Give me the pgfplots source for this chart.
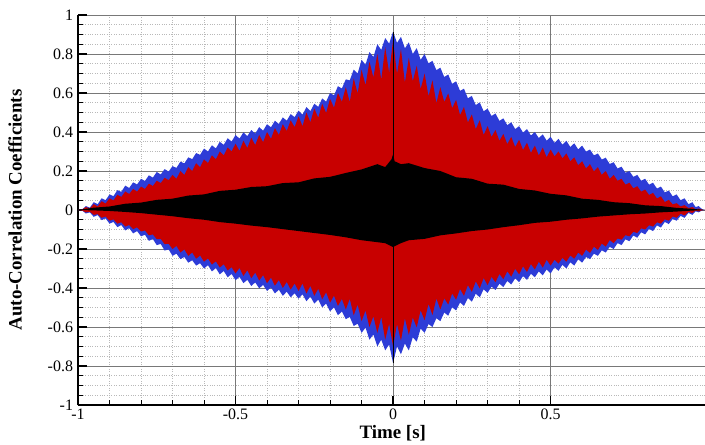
\documentclass[border=0pt]{standalone}
\usepackage{pgfplots}
\pgfplotsset{compat=1.18}
\usepackage{fontspec}
\setmainfont{Liberation Serif}
\definecolor{acfblue}{RGB}{45,60,215}
\definecolor{acfred}{RGB}{200,0,0}
\definecolor{majgrid}{RGB}{120,120,120}
\definecolor{mingrid}{RGB}{185,185,185}

\begin{document}
\begin{tikzpicture}
\begin{axis}[
  scale only axis, width=627bp, height=390bp,
  xmin=-1, xmax=0.99, ymin=-1, ymax=1,
  axis lines=left, axis line style={-, line width=1.6pt},
  xtick={-1,-0.5,0,0.5},
  ytick={-1,-0.8,-0.6,-0.4,-0.2,0,0.2,0.4,0.6,0.8,1},
  minor x tick num=4, minor y tick num=3,
  tick align=inside,
  major tick length=9bp, minor tick length=5bp,
  major tick style={black, line width=1.5pt},
  minor tick style={black, line width=0.6pt},
  grid=both,
  major grid style={majgrid, line width=0.6pt},
  minor grid style={mingrid, dotted, line width=0.6pt},
  tick label style={font=\fontsize{16}{18}\selectfont},
  xticklabel style={yshift=-0.5bp},
  yticklabel style={xshift=-1.5bp},
  /pgf/number format/assume math mode=true,
  label style={font=\fontsize{19}{22}\selectfont\bfseries},
  xlabel={Time [s]}, ylabel={Auto-Correlation Coefficients},
  xlabel style={at={(axis description cs:0.502,-0.073)}, anchor=center, inner sep=0pt},
  ylabel style={at={(axis description cs:-0.1005,0.5)}, anchor=center},
]

% blue: upper edge left to right, then lower edge back
\addplot[draw=none, fill=acfblue] coordinates {
(-1,0) (-0.9875,0.002) (-0.975,0.02) (-0.9625,0.012) (-0.95,0.04) (-0.9375,0.03)
(-0.925,0.06) (-0.9125,0.05) (-0.9,0.08) (-0.8875,0.071) (-0.875,0.102) (-0.8625,0.093)
(-0.85,0.125) (-0.8375,0.113) (-0.825,0.142) (-0.8125,0.131) (-0.8,0.16) (-0.7875,0.149)
(-0.775,0.178) (-0.7625,0.166) (-0.75,0.195) (-0.7375,0.182) (-0.725,0.21) (-0.7125,0.197)
(-0.7,0.225) (-0.6875,0.216) (-0.675,0.248) (-0.6625,0.239) (-0.65,0.27) (-0.6375,0.261)
(-0.625,0.292) (-0.6125,0.283) (-0.6,0.315) (-0.5875,0.3) (-0.575,0.332) (-0.5625,0.316)
(-0.55,0.35) (-0.5375,0.334) (-0.525,0.368) (-0.5125,0.351) (-0.5,0.385) (-0.4875,0.366)
(-0.475,0.398) (-0.4625,0.379) (-0.45,0.41) (-0.4375,0.392) (-0.425,0.425) (-0.4125,0.407)
(-0.4,0.44) (-0.3875,0.424) (-0.375,0.458) (-0.3625,0.441) (-0.35,0.475) (-0.3375,0.458)
(-0.325,0.492) (-0.3125,0.476) (-0.3,0.51) (-0.2875,0.489) (-0.275,0.528) (-0.2625,0.507)
(-0.25,0.545) (-0.2375,0.529) (-0.225,0.572) (-0.2125,0.556) (-0.2,0.6) (-0.1875,0.588)
(-0.175,0.635) (-0.1625,0.623) (-0.15,0.67) (-0.1375,0.665) (-0.125,0.72) (-0.1125,0.7)
(-0.1,0.77) (-0.0875,0.745) (-0.075,0.81) (-0.0625,0.785) (-0.05,0.85) (-0.0375,0.821)
(-0.025,0.882) (-0.0125,0.853) (0,0.915)
(0.0125,0.857) (0.025,0.888) (0.0375,0.829) (0.05,0.86) (0.0625,0.8) (0.075,0.83)
(0.0875,0.77) (0.1,0.8) (0.1125,0.752) (0.125,0.765) (0.1375,0.717) (0.15,0.73)
(0.1625,0.682) (0.175,0.695) (0.1875,0.647) (0.2,0.66) (0.2125,0.611) (0.225,0.622)
(0.2375,0.573) (0.25,0.585) (0.2625,0.538) (0.275,0.552) (0.2875,0.506) (0.3,0.52)
(0.3125,0.482) (0.325,0.495) (0.3375,0.457) (0.35,0.47) (0.3625,0.435) (0.375,0.45)
(0.3875,0.415) (0.4,0.43) (0.4125,0.397) (0.425,0.415) (0.4375,0.382) (0.45,0.4)
(0.4625,0.369) (0.475,0.388) (0.4875,0.356) (0.5,0.375) (0.5125,0.345) (0.525,0.365)
(0.5375,0.335) (0.55,0.355) (0.5625,0.323) (0.575,0.342) (0.5875,0.311) (0.6,0.33)
(0.6125,0.3) (0.625,0.31) (0.6375,0.28) (0.65,0.29) (0.6625,0.259) (0.675,0.268)
(0.6875,0.236) (0.7,0.245) (0.7125,0.213) (0.725,0.222) (0.7375,0.191) (0.75,0.2)
(0.7625,0.17) (0.775,0.18) (0.7875,0.15) (0.8,0.16) (0.8125,0.13) (0.825,0.14)
(0.8375,0.11) (0.85,0.12) (0.8625,0.09) (0.875,0.1) (0.8875,0.07) (0.9,0.08)
(0.9125,0.05) (0.925,0.06) (0.9375,0.03) (0.95,0.04) (0.96,0.015) (0.97,0.02)
(0.98,0.005) (0.99,0)
(0.98,-0.003) (0.97,-0.012) (0.96,-0.007) (0.95,-0.025) (0.9375,-0.015) (0.925,-0.04)
(0.9125,-0.03) (0.9,-0.055) (0.8875,-0.046) (0.875,-0.072) (0.8625,-0.061) (0.85,-0.09)
(0.8375,-0.079) (0.825,-0.108) (0.8125,-0.097) (0.8,-0.125) (0.7875,-0.114) (0.775,-0.142)
(0.7625,-0.131) (0.75,-0.16) (0.7375,-0.15) (0.725,-0.18) (0.7125,-0.17) (0.7,-0.2)
(0.6875,-0.189) (0.675,-0.218) (0.6625,-0.207) (0.65,-0.235) (0.6375,-0.224) (0.625,-0.252)
(0.6125,-0.241) (0.6,-0.27) (0.5875,-0.253) (0.575,-0.285) (0.5625,-0.268) (0.55,-0.3)
(0.5375,-0.281) (0.525,-0.312) (0.5125,-0.294) (0.5,-0.325) (0.4875,-0.305) (0.475,-0.335)
(0.4625,-0.315) (0.45,-0.345) (0.4375,-0.327) (0.425,-0.358) (0.4125,-0.339) (0.4,-0.37)
(0.3875,-0.351) (0.375,-0.382) (0.3625,-0.364) (0.35,-0.395) (0.3375,-0.378) (0.325,-0.41)
(0.3125,-0.393) (0.3,-0.425) (0.2875,-0.407) (0.275,-0.448) (0.2625,-0.429) (0.25,-0.47)
(0.2375,-0.451) (0.225,-0.492) (0.2125,-0.474) (0.2,-0.515) (0.1875,-0.499) (0.175,-0.542)
(0.1625,-0.526) (0.15,-0.57) (0.1375,-0.555) (0.125,-0.6) (0.1125,-0.585) (0.1,-0.63)
(0.0875,-0.608) (0.075,-0.675) (0.0625,-0.653) (0.05,-0.72) (0.0375,-0.685) (0.025,-0.74)
(0.0125,-0.7) (0,-0.785) (-0.0125,-0.69) (-0.025,-0.72) (-0.0375,-0.665) (-0.05,-0.7)
(-0.0625,-0.638) (-0.075,-0.665) (-0.0875,-0.603) (-0.1,-0.63) (-0.1125,-0.583) (-0.125,-0.595)
(-0.1375,-0.548) (-0.15,-0.56) (-0.1625,-0.52) (-0.175,-0.54) (-0.1875,-0.5) (-0.2,-0.52)
(-0.2125,-0.48) (-0.225,-0.5) (-0.2375,-0.46) (-0.25,-0.48) (-0.2625,-0.444) (-0.275,-0.468)
(-0.2875,-0.432) (-0.3,-0.455) (-0.3125,-0.427) (-0.325,-0.448) (-0.3375,-0.419) (-0.35,-0.44)
(-0.3625,-0.409) (-0.375,-0.428) (-0.3875,-0.397) (-0.4,-0.415) (-0.4125,-0.384) (-0.425,-0.402)
(-0.4375,-0.371) (-0.45,-0.39) (-0.4625,-0.358) (-0.475,-0.375) (-0.4875,-0.343) (-0.5,-0.36)
(-0.5125,-0.328) (-0.525,-0.345) (-0.5375,-0.313) (-0.55,-0.33) (-0.5625,-0.298) (-0.575,-0.315)
(-0.5875,-0.283) (-0.6,-0.3) (-0.6125,-0.273) (-0.625,-0.285) (-0.6375,-0.258) (-0.65,-0.27)
(-0.6625,-0.241) (-0.675,-0.252) (-0.6875,-0.224) (-0.7,-0.235) (-0.7125,-0.202) (-0.725,-0.208)
(-0.7375,-0.174) (-0.75,-0.18) (-0.7625,-0.149) (-0.775,-0.158) (-0.7875,-0.127) (-0.8,-0.135)
(-0.8125,-0.108) (-0.825,-0.12) (-0.8375,-0.093) (-0.85,-0.105) (-0.8625,-0.077) (-0.875,-0.088)
(-0.8875,-0.061) (-0.9,-0.07) (-0.9125,-0.043) (-0.925,-0.052) (-0.9375,-0.026) (-0.95,-0.035)
(-0.9625,-0.012) (-0.975,-0.018) (-0.9875,-0.002) (-1,0)
};

% red: upper edge left to right, then lower edge back
\addplot[draw=none, fill=acfred] coordinates {
(-1,0) (-0.9875,0.002) (-0.975,0.015) (-0.9625,0.008) (-0.95,0.03) (-0.9375,0.018)
(-0.925,0.045) (-0.9125,0.033) (-0.9,0.06) (-0.8875,0.049) (-0.875,0.078) (-0.8625,0.067)
(-0.85,0.095) (-0.8375,0.082) (-0.825,0.108) (-0.8125,0.094) (-0.8,0.12) (-0.7875,0.108)
(-0.775,0.135) (-0.7625,0.123) (-0.75,0.15) (-0.7375,0.138) (-0.725,0.165) (-0.7125,0.153)
(-0.7,0.18) (-0.6875,0.16) (-0.675,0.2) (-0.6625,0.18) (-0.65,0.22) (-0.6375,0.2)
(-0.625,0.24) (-0.6125,0.22) (-0.6,0.26) (-0.5875,0.24) (-0.575,0.28) (-0.5625,0.26)
(-0.55,0.3) (-0.5375,0.28) (-0.525,0.32) (-0.5125,0.3) (-0.5,0.34) (-0.4875,0.303)
(-0.475,0.355) (-0.4625,0.318) (-0.45,0.37) (-0.4375,0.333) (-0.425,0.385) (-0.4125,0.348)
(-0.4,0.4) (-0.3875,0.365) (-0.375,0.42) (-0.3625,0.385) (-0.35,0.44) (-0.3375,0.405)
(-0.325,0.46) (-0.3125,0.425) (-0.3,0.48) (-0.2875,0.43) (-0.275,0.5) (-0.2625,0.45)
(-0.25,0.52) (-0.2375,0.473) (-0.225,0.545) (-0.2125,0.498) (-0.2,0.57) (-0.1875,0.525)
(-0.175,0.6) (-0.1625,0.555) (-0.15,0.63) (-0.1375,0.553) (-0.125,0.675) (-0.1125,0.598)
(-0.1,0.72) (-0.0875,0.64) (-0.075,0.76) (-0.0625,0.68) (-0.05,0.8) (-0.0375,0.668)
(-0.025,0.835) (-0.0125,0.703) (0,0.87)
(0.0125,0.698) (0.025,0.825) (0.0375,0.653) (0.05,0.78) (0.0625,0.66) (0.075,0.74)
(0.0875,0.62) (0.1,0.7) (0.1125,0.583) (0.125,0.665) (0.1375,0.548) (0.15,0.63)
(0.1625,0.554) (0.175,0.598) (0.1875,0.522) (0.2,0.565) (0.2125,0.487) (0.225,0.528)
(0.2375,0.449) (0.25,0.49) (0.2625,0.415) (0.275,0.46) (0.2875,0.385) (0.3,0.43)
(0.3125,0.375) (0.325,0.41) (0.3375,0.355) (0.35,0.39) (0.3625,0.338) (0.375,0.375)
(0.3875,0.323) (0.4,0.36) (0.4125,0.308) (0.425,0.345) (0.4375,0.293) (0.45,0.33)
(0.4625,0.28) (0.475,0.32) (0.4875,0.27) (0.5,0.31) (0.5125,0.275) (0.525,0.3)
(0.5375,0.265) (0.55,0.29) (0.5625,0.25) (0.575,0.27) (0.5875,0.23) (0.6,0.25)
(0.6125,0.213) (0.625,0.235) (0.6375,0.198) (0.65,0.22) (0.6625,0.18) (0.675,0.2)
(0.6875,0.16) (0.7,0.18) (0.7125,0.15) (0.725,0.16) (0.7375,0.13) (0.75,0.14)
(0.7625,0.111) (0.775,0.122) (0.7875,0.094) (0.8,0.105) (0.8125,0.077) (0.825,0.088)
(0.8375,0.059) (0.85,0.07) (0.8625,0.041) (0.875,0.052) (0.8875,0.029) (0.9,0.035)
(0.9125,0.018) (0.925,0.025) (0.9375,0.01) (0.95,0.015) (0.96,0.004) (0.97,0.007)
(0.98,0.002) (0.99,0)
(0.98,-0.002) (0.97,-0.007) (0.96,-0.003) (0.95,-0.015) (0.9375,-0.01) (0.925,-0.028)
(0.9125,-0.019) (0.9,-0.04) (0.8875,-0.033) (0.875,-0.055) (0.8625,-0.048) (0.85,-0.07)
(0.8375,-0.063) (0.825,-0.085) (0.8125,-0.078) (0.8,-0.1) (0.7875,-0.094) (0.775,-0.118)
(0.7625,-0.112) (0.75,-0.135) (0.7375,-0.129) (0.725,-0.152) (0.7125,-0.146) (0.7,-0.17)
(0.6875,-0.154) (0.675,-0.188) (0.6625,-0.172) (0.65,-0.205) (0.6375,-0.188) (0.625,-0.22)
(0.6125,-0.203) (0.6,-0.235) (0.5875,-0.218) (0.575,-0.25) (0.5625,-0.233) (0.55,-0.265)
(0.5375,-0.245) (0.525,-0.275) (0.5125,-0.255) (0.5,-0.285) (0.4875,-0.255) (0.475,-0.295)
(0.4625,-0.265) (0.45,-0.305) (0.4375,-0.277) (0.425,-0.318) (0.4125,-0.289) (0.4,-0.33)
(0.3875,-0.301) (0.375,-0.342) (0.3625,-0.314) (0.35,-0.355) (0.3375,-0.328) (0.325,-0.37)
(0.3125,-0.343) (0.3,-0.385) (0.2875,-0.349) (0.275,-0.402) (0.2625,-0.366) (0.25,-0.42)
(0.2375,-0.385) (0.225,-0.44) (0.2125,-0.405) (0.2,-0.46) (0.1875,-0.428) (0.175,-0.485)
(0.1625,-0.453) (0.15,-0.51) (0.1375,-0.454) (0.125,-0.538) (0.1125,-0.482) (0.1,-0.565)
(0.0875,-0.514) (0.075,-0.602) (0.0625,-0.551) (0.05,-0.64) (0.0375,-0.555) (0.025,-0.67)
(0.0125,-0.585) (0,-0.7) (-0.0125,-0.583) (-0.025,-0.665) (-0.0375,-0.548) (-0.05,-0.63)
(-0.0625,-0.545) (-0.075,-0.6) (-0.0875,-0.515) (-0.1,-0.57) (-0.1125,-0.485) (-0.125,-0.54)
(-0.1375,-0.455) (-0.15,-0.51) (-0.1625,-0.456) (-0.175,-0.492) (-0.1875,-0.439) (-0.2,-0.475)
(-0.2125,-0.422) (-0.225,-0.458) (-0.2375,-0.404) (-0.25,-0.44) (-0.2625,-0.389) (-0.275,-0.428)
(-0.2875,-0.377) (-0.3,-0.415) (-0.3125,-0.377) (-0.325,-0.408) (-0.3375,-0.369) (-0.35,-0.4)
(-0.3625,-0.359) (-0.375,-0.388) (-0.3875,-0.347) (-0.4,-0.375) (-0.4125,-0.334) (-0.425,-0.362)
(-0.4375,-0.321) (-0.45,-0.35) (-0.4625,-0.309) (-0.475,-0.338) (-0.4875,-0.297) (-0.5,-0.325)
(-0.5125,-0.293) (-0.525,-0.31) (-0.5375,-0.278) (-0.55,-0.295) (-0.5625,-0.263) (-0.575,-0.28)
(-0.5875,-0.248) (-0.6,-0.265) (-0.6125,-0.233) (-0.625,-0.25) (-0.6375,-0.218) (-0.65,-0.235)
(-0.6625,-0.202) (-0.675,-0.218) (-0.6875,-0.184) (-0.7,-0.2) (-0.7125,-0.173) (-0.725,-0.175)
(-0.7375,-0.148) (-0.75,-0.15) (-0.7625,-0.125) (-0.775,-0.13) (-0.7875,-0.105) (-0.8,-0.11)
(-0.8125,-0.089) (-0.825,-0.098) (-0.8375,-0.077) (-0.85,-0.085) (-0.8625,-0.063) (-0.875,-0.07)
(-0.8875,-0.048) (-0.9,-0.055) (-0.9125,-0.033) (-0.925,-0.04) (-0.9375,-0.021) (-0.95,-0.025)
(-0.9625,-0.009) (-0.975,-0.012) (-0.9875,-0.002) (-1,0)
};

% black
\addplot[draw=none, fill=black] coordinates {
(-1,0) (-0.95,0.012) (-0.9,0.018) (-0.85,0.032) (-0.8,0.038) (-0.75,0.052)
(-0.7,0.058) (-0.65,0.074) (-0.6,0.08) (-0.55,0.098) (-0.5,0.104) (-0.45,0.118)
(-0.4,0.122) (-0.35,0.138) (-0.3,0.142) (-0.25,0.162) (-0.2,0.17) (-0.15,0.19)
(-0.1,0.208) (-0.05,0.235) (-0.025,0.22) (-0.005,0.26) (0,0.285) (0.005,0.25)
(0.025,0.235) (0.05,0.24) (0.1,0.215) (0.15,0.2) (0.2,0.168) (0.25,0.16)
(0.3,0.135) (0.35,0.13) (0.4,0.108) (0.45,0.1) (0.5,0.083) (0.55,0.075)
(0.6,0.058) (0.65,0.052) (0.7,0.04) (0.75,0.035) (0.8,0.024) (0.85,0.02)
(0.9,0.011) (0.95,0.006) (0.99,0)
(0.95,-0.003) (0.9,-0.008) (0.85,-0.012) (0.8,-0.018) (0.75,-0.022) (0.7,-0.028)
(0.65,-0.034) (0.6,-0.043) (0.55,-0.05) (0.5,-0.06) (0.45,-0.066) (0.4,-0.078)
(0.35,-0.088) (0.3,-0.1) (0.25,-0.108) (0.2,-0.12) (0.15,-0.13) (0.1,-0.148)
(0.05,-0.155) (0.025,-0.17) (0,-0.19) (-0.025,-0.17) (-0.05,-0.165) (-0.1,-0.155)
(-0.15,-0.14) (-0.2,-0.128) (-0.25,-0.118) (-0.3,-0.108) (-0.35,-0.098)
(-0.4,-0.088) (-0.45,-0.08) (-0.5,-0.07) (-0.55,-0.062) (-0.6,-0.05)
(-0.65,-0.042) (-0.7,-0.032) (-0.75,-0.024) (-0.8,-0.016) (-0.85,-0.01)
(-0.9,-0.005) (-0.95,-0.002) (-1,0)
};

% zero-lag spike
\addplot[black, line width=0.6pt] coordinates {(0,-0.785) (0,0.915)};
\end{axis}
\pgfresetboundingbox
\path[use as bounding box] (-78bp,-40bp) rectangle (627bp,405bp);
\end{tikzpicture}
\end{document}
